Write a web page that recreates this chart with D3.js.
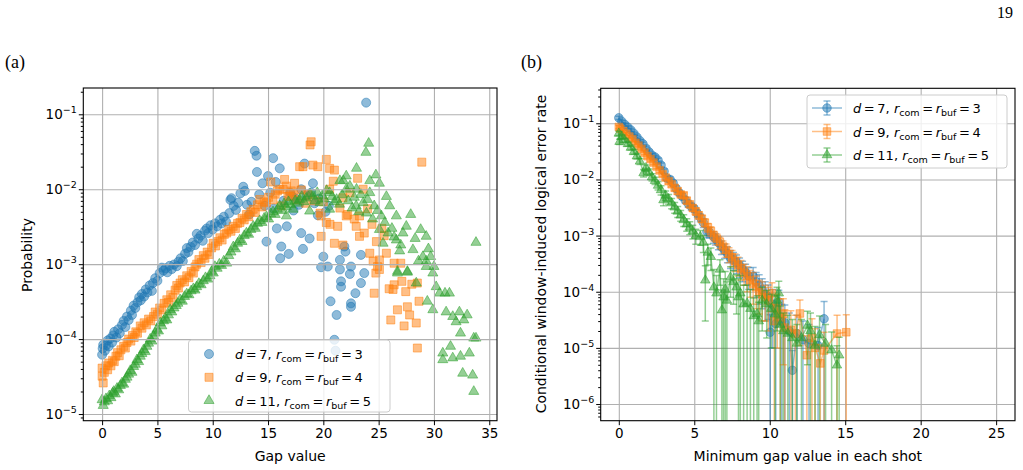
<!DOCTYPE html>
<html>
<head>
<meta charset="utf-8">
<script src="https://d3js.org/d3.v7.min.js"></script>
<style>
  body { margin: 0; background: #fff; }
  text { font-family: "DejaVu Sans", sans-serif; }
</style>
</head>
<body>
<div id="fig"></div>
<script>
// ---- panel (a): [gap value, probability] ----
var scatterD7 = [
  [0.0,6.2e-5],[0.05,7.5e-5],[0.1,8.4e-5],[0.25,7.0e-5],[0.35,8.2e-5],[0.5,9.6e-5],[0.6,8.0e-5],[0.75,1.02e-4],[0.9,9.0e-5],
  [1.0,1.12e-4],[1.1,1.25e-4],[1.3,1.05e-4],[1.45,1.35e-4],[1.6,1.2e-4],[1.8,1.55e-4],[1.95,1.75e-4],[2.1,1.45e-4],[2.25,2.0e-4],
  [2.4,1.8e-4],[2.6,2.4e-4],[2.7,2.1e-4],[2.85,2.8e-4],[3.0,2.6e-4],[3.2,3.1e-4],[3.35,3.6e-4],[3.5,3.3e-4],[3.6,4.0e-4],[3.8,3.7e-4],
  [3.95,4.6e-4],[4.1,4.2e-4],[4.3,5.2e-4],[4.5,4.4e-4],[4.6,5.6e-4],[4.8,6.5e-4],[5.0,6.0e-4],[5.2,7.6e-4],[5.4,9.0e-4],[5.55,8.2e-4],
  [5.75,8.8e-4],[5.9,7.8e-4],[6.1,9.5e-4],[6.3,8.6e-4],[6.5,9.9e-4],[6.75,9.4e-4],[6.9,1.08e-3],[7.1,1.2e-3],[7.3,1.1e-3],[7.5,1.38e-3],
  [7.66,1.64e-3],[7.8,1.45e-3],[8.0,1.7e-3],[8.2,1.95e-3],[8.4,1.8e-3],[8.56,2.54e-3],[8.7,2.2e-3],[8.9,2.4e-3],[9.1,2.05e-3],[9.3,2.8e-3],
  [9.46,3.0e-3],[9.6,2.6e-3],[9.8,3.3e-3],[10.0,2.9e-3],[10.2,3.5e-3],[10.4,3.2e-3],[10.66,3.9e-3],[10.8,3.5e-3],[11.0,4.3e-3],[11.2,3.7e-3],
  [11.5,4.8e-3],[11.6,7.2e-3],[11.7,7.6e-3],[11.9,6.0e-3],[12.1,5.3e-3],[12.3,6.6e-3],[12.5,8.8e-3],[12.76,1.08e-2],[12.9,9.5e-3],[13.1,6.2e-3],
  [13.3,4.6e-3],[13.5,6.8e-3],[13.8,3.25e-2],[13.96,2.8e-2],[14.0,1.7e-2],[14.2,8.5e-3],[14.5,1.2e-2],[14.7,6.0e-3],[14.86,2.0e-3],[15.0,1.5e-2],
  [15.2,9.0e-3],[15.46,2.6e-2],[15.5,5.5e-3],[15.7,1.25e-2],[15.8,3.0e-3],[16.06,1.9e-2],[16.1,1.2e-3],[16.2,1.72e-3],[16.4,7.0e-3],[16.7,3.2e-3],
  [16.87,1.37e-3],[17.0,9.0e-3],[17.2,8.0e-3],[17.3,5.2e-3],[17.5,7.5e-3],[17.8,6.2e-3],[18.0,2.6e-3],[18.0,1.0e-2],[18.16,1.6e-3],[18.3,2.2e-2],
  [18.5,8.2e-3],[18.76,2.2e-3],[18.9,9.0e-3],[19.06,1.2e-2],[19.2,6.5e-3],[19.5,4.5e-3],[19.6,7.5e-3],[19.8,9.1e-4],[20.0,1.26e-3],[20.2,5.0e-3],
  [20.4,9.3e-4],[20.5,6.0e-3],[20.65,3.2e-4],[21.0,9.8e-5],[21.1,7.0e-5],[21.2,2.1e-4],[21.5,1.14e-3],[21.5,8.5e-4],[21.6,5.9e-4],[21.6,5.0e-4],
  [21.9,1.72e-3],[22.0,1.47e-3],[22.4,7.4e-4],[22.5,9.3e-4],[22.5,3.0e-4],[22.5,2.7e-4],[22.9,4.1e-4],[23.4,1.33e-3],[23.4,5.6e-4],[23.7,7.6e-4],
  [23.87,1.43e-1]
];
var scatterD9 = [
  [0.0,3.2e-5],[0.0,4.1e-5],[0.1,2.6e-5],[0.2,3.6e-5],[0.35,4.4e-5],[0.5,3.9e-5],[0.6,4.8e-5],[0.8,4.4e-5],[0.95,5.2e-5],[1.1,5.0e-5],
  [1.25,5.9e-5],[1.4,6.6e-5],[1.55,6.0e-5],[1.7,7.2e-5],[1.95,8.0e-5],[2.1,7.6e-5],[2.25,9.0e-5],[2.4,1.0e-4],[2.6,9.4e-5],[2.75,1.12e-4],
  [2.9,1.05e-4],[3.05,1.25e-4],[3.2,1.2e-4],[3.45,1.5e-4],[3.6,1.4e-4],[3.8,1.65e-4],[4.0,1.55e-4],[4.2,1.85e-4],[4.4,1.75e-4],[4.65,2.0e-4],
  [4.8,2.3e-4],[5.0,2.15e-4],[5.2,2.6e-4],[5.4,2.45e-4],[5.6,3.0e-4],[5.85,3.35e-4],[6.0,3.1e-4],[6.2,3.9e-4],[6.4,3.6e-4],[6.6,4.5e-4],
  [6.75,5.2e-4],[6.9,4.8e-4],[7.05,5.6e-4],[7.25,6.2e-4],[7.45,5.8e-4],[7.65,7.0e-4],[7.85,6.6e-4],[8.05,8.0e-4],[8.25,7.6e-4],[8.4,9.2e-4],
  [8.55,1.0e-3],[8.75,1.15e-3],[8.95,1.05e-3],[9.15,1.3e-3],[9.3,1.2e-3],[9.5,1.45e-3],[9.7,1.35e-3],[9.9,1.65e-3],[10.05,1.9e-3],[10.25,1.75e-3],
  [10.45,2.0e-3],[10.65,2.25e-3],[10.85,2.1e-3],[11.05,2.5e-3],[11.26,2.6e-3],[11.45,2.9e-3],[11.65,2.75e-3],[11.85,3.2e-3],[12.05,3.0e-3],[12.25,3.5e-3],
  [12.46,3.6e-3],[12.65,4.1e-3],[12.85,3.9e-3],[13.06,4.6e-3],[13.25,4.3e-3],[13.45,5.0e-3],[13.66,5.4e-3],[13.85,4.9e-3],[14.05,6.2e-3],[14.26,7.3e-3],
  [14.45,5.8e-3],[14.65,6.8e-3],[14.86,6.6e-3],[15.05,7.8e-3],[15.25,1.25e-2],[15.45,7.2e-3],[15.65,8.6e-3],[15.85,9.5e-3],[16.06,1.0e-2],[16.2,6.0e-3],
  [16.36,1.0e-2],[16.5,1.35e-2],[16.66,1.1e-2],[16.8,8.0e-3],[16.96,8.1e-3],[17.1,9.5e-3],[17.26,9.0e-3],[17.4,1.2e-2],[17.6,7.2e-3],[17.86,2.0e-2],
  [18.0,9.8e-3],[18.16,2.0e-2],[18.4,6.5e-3],[18.6,8.5e-3],[18.8,3.9e-2],[18.9,4.3e-2],[19.06,2.1e-2],[19.2,7.0e-3],[19.5,2.0e-2],[19.7,4.8e-3],
  [19.8,4.4e-3],[19.8,2.35e-3],[20.0,6.8e-3],[20.27,2.5e-2],[20.27,3.6e-3],[20.57,1.9e-2],[20.57,1.0e-2],[20.6,3.4e-3],[20.9,1.28e-2],[21.0,1.8e-2],
  [21.0,1.9e-3],[21.3,3.2e-3],[21.5,5.6e-3],[21.77,7.7e-3],[21.77,1.8e-3],[22.07,4.4e-3],[22.2,4.6e-3],[22.4,9.0e-3],[22.8,4.0e-3],[22.97,3.2e-3],
  [23.1,1.4e-2],[23.27,4.4e-3],[23.27,2.35e-3],[23.6,1.0e-2],[23.7,2.6e-3],[24.0,5.5e-3],[24.2,1.4e-3],[24.4,3.4e-3],[24.5,1.1e-3],[24.6,4.1e-4],
  [24.75,7.6e-4],[24.8,2.0e-3],[24.9,9.3e-4],[25.07,1.14e-3],[25.07,8.5e-4],[25.3,3.0e-3],[25.5,2.4e-3],[25.7,1.4e-3],[25.95,4.7e-4],[26.1,1.8e-4],
  [26.3,4.6e-4],[26.4,5.3e-4],[26.4,1.03e-3],[26.7,2.46e-4],[27.0,1.03e-3],[27.1,5.9e-4],[27.3,1.5e-4],[27.45,4.3e-4],[27.6,2.7e-4],[27.8,2.1e-4],
  [28.0,5.4e-4],[28.4,1.64e-4],[28.5,5.6e-4],[28.5,7.6e-5],[28.65,3.2e-4],[28.9,2.3e-2]
];
var scatterD11 = [
  [0.0,1.55e-5],[0.1,1.3e-5],[0.2,1.45e-5],[0.35,1.6e-5],[0.5,1.5e-5],[0.65,1.75e-5],[0.8,1.65e-5],[0.95,1.9e-5],[1.05,2.0e-5],[1.2,1.85e-5],
  [1.35,2.2e-5],[1.5,2.1e-5],[1.65,2.4e-5],[1.8,2.6e-5],[1.95,2.5e-5],[2.1,2.9e-5],[2.25,3.1e-5],[2.4,3.4e-5],[2.55,3.8e-5],[2.7,3.6e-5],
  [2.85,4.3e-5],[3.0,4.6e-5],[3.15,5.3e-5],[3.3,5.0e-5],[3.45,5.9e-5],[3.6,6.4e-5],[3.75,7.2e-5],[3.9,6.8e-5],[4.05,8.0e-5],[4.2,8.8e-5],
  [4.35,1.0e-4],[4.5,9.4e-5],[4.65,1.1e-4],[4.8,1.2e-4],[4.95,1.35e-4],[5.1,1.28e-4],[5.25,1.64e-4],[5.4,1.5e-4],[5.55,1.75e-4],[5.7,1.9e-4],
  [5.85,1.8e-4],[6.0,2.1e-4],[6.15,2.46e-4],[6.3,2.3e-4],[6.5,2.6e-4],[6.7,2.8e-4],[6.85,3.0e-4],[7.05,3.35e-4],[7.25,3.2e-4],[7.45,3.7e-4],
  [7.65,4.0e-4],[7.85,3.9e-4],[8.05,4.4e-4],[8.25,4.7e-4],[8.4,4.5e-4],[8.55,5.0e-4],[8.75,5.5e-4],[8.95,5.3e-4],[9.15,6.0e-4],[9.35,6.6e-4],
  [9.55,6.3e-4],[9.75,7.0e-4],[9.9,8.0e-4],[10.05,7.6e-4],[10.2,9.3e-4],[10.4,8.8e-4],[10.6,1.0e-3],[10.8,9.6e-4],[11.0,1.1e-3],[11.26,1.03e-3],
  [11.45,1.3e-3],[11.65,1.45e-3],[11.86,1.7e-3],[12.05,1.6e-3],[12.25,1.9e-3],[12.45,2.1e-3],[12.65,2.0e-3],[12.85,2.4e-3],[13.05,2.6e-3],[13.25,2.5e-3],
  [13.45,2.9e-3],[13.66,3.2e-3],[13.85,3.0e-3],[14.05,3.5e-3],[14.25,3.8e-3],[14.45,3.6e-3],[14.65,4.1e-3],[14.86,4.3e-3],[15.05,4.0e-3],[15.25,4.7e-3],
  [15.45,5.0e-3],[15.65,4.6e-3],[15.85,5.4e-3],[16.06,6.0e-3],[16.25,5.2e-3],[16.45,6.4e-3],[16.66,5.8e-3],[16.66,4.4e-3],[16.85,6.8e-3],[17.05,6.2e-3],
  [17.26,5.4e-3],[17.45,7.0e-3],[17.66,6.5e-3],[17.86,7.3e-3],[18.05,8.0e-3],[18.25,6.8e-3],[18.45,7.6e-3],[18.76,5.1e-3],[18.8,8.6e-3],[19.06,8.1e-3],
  [19.25,7.0e-3],[19.45,9.0e-3],[19.7,6.6e-3],[19.9,8.2e-3],[20.1,7.4e-3],[20.3,9.6e-3],[20.57,9.0e-3],[20.57,5.4e-3],[20.8,8.0e-3],[21.0,6.8e-3],
  [21.2,7.3e-3],[21.46,6.3e-3],[21.5,1.3e-2],[21.7,8.4e-3],[21.8,1.3e-2],[22.07,1.0e-2],[22.07,1.5e-2],[22.25,7.0e-3],[22.4,1.1e-2],[22.6,5.6e-3],
  [22.8,7.8e-3],[22.97,6.0e-3],[23.0,1.9e-2],[23.0,1.0e-2],[23.2,5.0e-3],[23.4,8.5e-3],[23.6,6.6e-3],[23.85,3.1e-2],[23.9,4.8e-3],[24.0,7.3e-3],
  [24.1,4.1e-2],[24.2,1.3e-2],[24.2,9.0e-3],[24.45,4.0e-3],[24.6,6.0e-3],[24.75,1.55e-2],[24.9,5.2e-3],[25.07,1.2e-2],[25.07,2.9e-3],[25.25,4.4e-3],
  [25.4,1.9e-3],[25.55,3.6e-3],[25.7,8.0e-3],[25.85,2.6e-3],[26.0,6.0e-3],[26.2,3.0e-3],[26.4,2.3e-3],[26.6,4.4e-3],[26.6,2.1e-3],[26.7,8.0e-4],
  [26.7,7.6e-4],[26.9,1.5e-3],[27.0,1.8e-3],[27.2,2.6e-3],[27.5,3.2e-3],[27.6,8.0e-4],[27.6,7.8e-4],[27.9,4.6e-3],[28.1,1.56e-3],[28.3,2.2e-3],
  [28.4,5.6e-4],[28.6,1.1e-3],[28.8,2.9e-3],[29.0,1.26e-3],[29.3,2.35e-3],[29.3,1.1e-3],[29.3,9.3e-4],[29.4,3.2e-4],[29.5,1.6e-3],[29.7,1.26e-3],
  [29.9,7.6e-4],[29.9,2.46e-4],[30.0,9.3e-4],[30.2,5.0e-4],[30.5,4.1e-4],[30.8,6.5e-5],[30.8,5.3e-5],[31.0,4.1e-4],[31.1,2.3e-4],[31.4,4.1e-4],
  [31.5,8.0e-5],[31.7,2.0e-4],[31.7,5.6e-5],[32.0,1.7e-4],[32.3,2.3e-4],[32.4,1.2e-4],[32.4,5.9e-5],[32.6,3.5e-5],[32.7,1.8e-4],[33.0,2.1e-4],
  [33.2,6.5e-5],[33.5,3.3e-5],[33.6,1.03e-4],[33.6,2.0e-5],[33.8,1.03e-4],[33.8,1.95e-3]
];

// ---- panel (b): [minimum gap, error rate, error bar] ----
var rateD7 = [
  [0.0,0.125,0.008],[0.2,0.108,0.007],[0.4,0.095,0.006],[0.6,0.085,0.005],[0.8,0.076,0.005],[1.0,0.066,0.004],[1.2,0.057,0.004],
  [1.4,0.049,0.003],[1.6,0.043,0.003],[1.8,0.036,0.003],[2.0,0.031,0.0025],[2.2,0.027,0.0022],[2.4,0.025,0.002],[2.6,0.022,0.0019],
  [2.8,0.018,0.0016],[3.0,0.014,0.0013],[3.2,0.0105,0.0011],[3.4,0.0100,0.001],[3.6,0.0086,0.0009],[3.8,0.0069,0.0008],[4.0,0.0058,0.0007],
  [4.2,0.0050,0.0006],[4.4,0.0043,0.00055],[4.6,0.0037,0.0005],[4.8,0.0033,0.00045],[5.0,0.0030,0.0004],[5.2,0.0025,0.00036],[5.4,0.0021,0.00033],
  [5.6,0.0017,0.0003],[5.84,0.00117,0.00025],[6.0,0.00115,0.00024],[6.27,0.00095,0.00022],[6.4,0.00088,0.0002],[6.6,0.00075,0.00019],
  [6.8,0.00063,0.00017],[7.0,0.00055,0.00016],[7.2,0.00048,0.00015],[7.4,0.00040,0.00014],[7.6,0.00037,0.00013],[7.8,0.00033,0.00012],
  [8.0,0.00029,0.00011],[8.2,0.00025,0.0001],[8.4,0.00022,0.00009],[8.6,0.00019,0.00008],[8.9,0.00019,0.00008],[9.1,0.00015,0.00007],
  [9.3,0.00013,0.00007],[9.5,0.00011,0.00006],[9.7,0.00009,0.00006],[9.9,0.000082,0.00005],[10.03,0.000019,0.00002],[10.2,0.00006,0.00005],
  [10.4,0.000027,0.00003],[10.6,0.000066,0.00004],[10.8,0.00003,0.00003],[11.0,0.000028,0.00003],[11.3,0.00002,0.000022],[11.5,0.000004,0.000005],
  [11.8,0.000018,0.00002],[12.2,0.000014,0.000016],[12.6,0.000012,0.000014],[13.2,0.000011,0.000012],[13.6,0.000033,0.000034]
];
var rateD9 = [
  [0.0,0.086,0.006],[0.1,0.08,0.006],[0.3,0.072,0.005],[0.5,0.065,0.005],[0.7,0.058,0.004],[0.9,0.052,0.004],[1.1,0.045,0.003],
  [1.3,0.04,0.003],[1.5,0.035,0.0027],[1.7,0.03,0.0024],[1.9,0.026,0.0021],[2.1,0.023,0.0019],[2.3,0.02,0.0017],[2.5,0.017,0.0015],
  [2.7,0.0145,0.0013],[2.9,0.0125,0.0012],[3.1,0.0108,0.001],[3.3,0.0093,0.0009],[3.5,0.0082,0.0008],[3.7,0.0071,0.0008],[3.9,0.0062,0.0007],
  [4.1,0.0054,0.0006],[4.3,0.0052,0.0006],[4.5,0.0042,0.0005],[4.7,0.0036,0.00045],[4.9,0.0031,0.0004],[5.1,0.0027,0.00037],[5.3,0.0023,0.00034],
  [5.5,0.002,0.0003],[5.7,0.0017,0.00028],[5.9,0.0014,0.00025],[6.1,0.0012,0.00023],[6.3,0.001,0.0002],[6.5,0.00088,0.00019],[6.7,0.00076,0.00017],
  [6.9,0.00064,0.00016],[7.1,0.00056,0.00015],[7.3,0.00047,0.00014],[7.5,0.00041,0.00013],[7.7,0.00035,0.00012],[7.9,0.0003,0.00011],
  [8.1,0.00026,0.0001],[8.3,0.00022,0.00009],[8.5,0.00019,0.00009],[8.7,0.00016,0.00008],[8.9,0.00014,0.00008],[9.1,0.00012,0.00007],
  [9.3,0.0001,0.00006],[9.5,0.00009,0.00006],[9.7,0.00008,0.00005],[9.9,0.00007,0.00005],[10.15,0.000094,0.00005],[10.3,0.00003,0.00003],
  [10.5,0.00005,0.00004],[10.7,0.000035,0.00004],[10.9,0.00004,0.000035],[11.0,0.000023,0.000025],[11.4,0.000021,0.000025],[11.7,0.000018,0.00002],
  [12.0,0.000041,0.00003],[12.46,0.0000074,0.000009],[12.8,0.000015,0.000018],[13.0,0.00001,0.000012],[13.35,0.0000053,0.000006],
  [13.6,0.000009,0.00001],[14.46,0.000018,0.00002],[15.07,0.000019,0.00002]
];
var rateD11 = [
  [0.0,0.066,0.006],[0.05,0.047,0.005],[0.2,0.058,0.005],[0.4,0.05,0.004],[0.6,0.043,0.004],[0.8,0.037,0.0035],[1.0,0.031,0.003],
  [1.2,0.026,0.0028],[1.4,0.021,0.0025],[1.64,0.013,0.002],[1.8,0.016,0.002],[2.0,0.0135,0.0018],[2.2,0.011,0.0016],[2.4,0.0095,0.0014],
  [2.6,0.0078,0.0013],[2.8,0.0065,0.0012],[2.96,0.0043,0.0009],[3.1,0.0052,0.001],[3.3,0.0045,0.0009],[3.5,0.0038,0.0008],[3.7,0.0032,0.0007],
  [3.9,0.0027,0.0006],[4.1,0.0023,0.0005],[4.3,0.0019,0.00045],[4.5,0.0016,0.0004],[4.7,0.0014,0.00036],[4.9,0.0012,0.00033],[5.1,0.001,0.0003],
  [5.4,0.00095,0.00028],[5.6,0.00075,0.00025],[5.73,0.00016,0.00013],[5.9,0.0005,0.0002],[6.1,0.00042,0.00018],[6.3,0.00012,0.00013],
  [6.47,0.000094,0.0001],[6.7,0.00025,0.00012],[6.83,0.000047,0.00006],[6.94,0.00008,0.00009],[7.05,0.00011,0.00012],[7.16,0.00007,0.00008],
  [7.4,0.00018,0.0001],[7.6,0.00015,0.00009],[7.8,0.00012,0.00008],[7.93,0.00008,0.00009],[8.05,0.000094,0.0001],[8.27,0.00006,0.00007],
  [8.5,0.000062,0.00007],[8.72,0.00005,0.00006],[8.94,0.000037,0.00004],[9.16,0.00004,0.000045],[9.27,0.00003,0.000035],[9.5,0.00007,0.00005],
  [9.8,0.00006,0.000045],[10.1,0.00005,0.00004],[10.35,0.00004,0.000045],[10.48,0.00007,0.00005],[10.6,0.000094,0.00006],[10.7,0.000026,0.00003],
  [10.9,0.00002,0.000022],[11.2,0.000018,0.00002],[11.5,0.000015,0.000017],[11.8,0.000012,0.000014],[12.1,0.000015,0.000017],[12.5,0.000025,0.00002],
  [12.7,0.00002,0.000022],[13.0,0.000011,0.000013],[13.3,0.000017,0.00002],[13.7,0.000012,0.000014],[14.1,0.0000091,0.00001],
  [14.45,0.0000049,0.000006],[14.6,0.0000074,0.000008]
];

var seriesNames = ["d7", "d9", "d11"];
var legendParts = [["7", "3"], ["9", "4"], ["11", "5"]];
var xTicksA = [0, 5, 10, 15, 20, 25, 30, 35];
var xTicksB = [0, 5, 10, 15, 20, 25];
var yPowersA = [-5, -4, -3, -2, -1];
var yPowersB = [-6, -5, -4, -3, -2, -1];

var colors = { d7: "#1f77b4", d9: "#ff7f0e", d11: "#2ca02c" };
var symbols = { d7: d3.symbolCircle, d9: d3.symbolSquare, d11: d3.symbolTriangle };
var symbolSizes = { d7: 64, d9: 64, d11: 44 };

var tickFont = "13.5px";
var labelFont = "14px";
var legendFont = "13px";

var svg = d3.select("#fig").append("svg")
  .attr("width", 1023)
  .attr("height", 470);

// page number and panel tags
svg.append("text").attr("x", 1013).attr("y", 18).attr("text-anchor", "end")
  .style("font-family", "Liberation Serif").style("font-size", "16px").text("19");
svg.append("text").attr("x", 5).attr("y", 68)
  .style("font-family", "Liberation Serif").style("font-size", "18px").text("(a)");
svg.append("text").attr("x", 521).attr("y", 68)
  .style("font-family", "Liberation Serif").style("font-size", "18px").text("(b)");

function minorTicks(domain) {
  var out = [];
  for (var k = -8; k <= 1; k++) {
    for (var m = 2; m <= 9; m++) {
      var v = m * Math.pow(10, k);
      if (v >= domain[0] && v <= domain[1]) out.push(v);
    }
  }
  return out;
}

function makePanel(box, xDomain, yDomain, xTicks, yPowers, id) {
  var x = d3.scaleLinear().domain(xDomain).range([box.left, box.right]);
  var y = d3.scaleLog().domain(yDomain).range([box.bottom, box.top]);
  var g = svg.append("g");

  svg.append("clipPath").attr("id", id)
    .append("rect")
    .attr("x", box.left).attr("y", box.top)
    .attr("width", box.right - box.left).attr("height", box.bottom - box.top);

  var grid = g.append("g").attr("class", "grid");
  grid.append("g")
    .attr("transform", "translate(0," + box.bottom + ")")
    .call(d3.axisBottom(x).tickValues(xTicks).tickSize(-(box.bottom - box.top)).tickFormat(""));
  grid.append("g")
    .attr("transform", "translate(" + box.left + ",0)")
    .call(d3.axisLeft(y).tickValues(yPowers.map(function(p) { return Math.pow(10, p); }))
      .tickSize(-(box.right - box.left)).tickFormat(""));
  grid.selectAll(".domain").remove();
  grid.selectAll("line").style("stroke", "#b0b0b0").style("stroke-width", "1.1px");

  var plot = g.append("g").attr("clip-path", "url(#" + id + ")");
  return { x: x, y: y, g: g, grid: grid, plot: plot, box: box };
}

function finishAxes(p, xTicks, yPowers) {
  var box = p.box;
  var ax = p.g.append("g");
  var xa = ax.append("g")
    .attr("transform", "translate(0," + box.bottom + ")")
    .call(d3.axisBottom(p.x).tickValues(xTicks).tickSize(4.5).tickPadding(3));
  xa.selectAll("text").style("font-size", tickFont).style("fill", "#000")
    .attr("y", 8).attr("dy", "0.71em");

  ax.append("g")
    .attr("transform", "translate(" + box.left + ",0)")
    .call(d3.axisLeft(p.y).tickValues(yPowers.map(function(q) { return Math.pow(10, q); }))
      .tickSize(4.5).tickFormat(""));
  ax.append("g")
    .attr("transform", "translate(" + box.left + ",0)")
    .call(d3.axisLeft(p.y).tickValues(minorTicks(p.y.domain())).tickSize(2.5).tickFormat(""));
  ax.selectAll("line").style("stroke", "#000").style("stroke-width", "1px");
  ax.selectAll(".domain").remove();

  yPowers.forEach(function(q) {
    var t = ax.append("text")
      .attr("x", box.left - 6.5)
      .attr("y", p.y(Math.pow(10, q)) + 5)
      .attr("text-anchor", "end")
      .style("font-size", tickFont);
    t.append("tspan").text("10");
    t.append("tspan").attr("dy", -6).style("font-size", "9.5px").text("\u2212" + (-q));
  });

  // frame
  ax.append("rect")
    .attr("x", box.left).attr("y", box.top)
    .attr("width", box.right - box.left).attr("height", box.bottom - box.top)
    .style("fill", "none").style("stroke", "#000").style("stroke-width", "1.1px");
}

function legendLabel(sel, parts) {
  sel.append("tspan").style("font-style", "italic").text("d");
  sel.append("tspan").text("\u2009=\u2009" + parts[0] + ", ");
  sel.append("tspan").style("font-style", "italic").text("r");
  sel.append("tspan").attr("dy", 3).style("font-size", "9.5px").text("com");
  sel.append("tspan").attr("dy", -3).text("\u2009=\u2009");
  sel.append("tspan").style("font-style", "italic").text("r");
  sel.append("tspan").attr("dy", 3).style("font-size", "9.5px").text("buf");
  sel.append("tspan").attr("dy", -3).text("\u2009=\u2009" + parts[1]);
}

// ---------------- panel (a) ----------------
var boxA = { left: 83.3, right: 497, top: 88, bottom: 420.7 };
var pA = makePanel(boxA, [-1.7, 35.7], [8.15e-6, 0.2244], xTicksA, yPowersA, "clipA");
var dataA = { d7: scatterD7, d9: scatterD9, d11: scatterD11 };

seriesNames.forEach(function(name) {
  pA.plot.append("g").selectAll("path")
    .data(dataA[name])
    .enter()
    .append("path")
    .attr("d", d3.symbol().type(symbols[name]).size(symbolSizes[name]))
    .attr("transform", function(d) { return "translate(" + pA.x(d[0]) + "," + pA.y(d[1]) + ")"; })
    .style("fill", colors[name])
    .style("fill-opacity", 0.5)
    .style("stroke", colors[name])
    .style("stroke-opacity", 0.5)
    .style("stroke-width", 1);
});
// scatter sits under the grid in matplotlib
pA.grid.raise();
finishAxes(pA, xTicksA, yPowersA);

svg.append("text").attr("x", (boxA.left + boxA.right) / 2).attr("y", 461)
  .attr("text-anchor", "middle").style("font-size", labelFont).text("Gap value");
svg.append("text").attr("transform", "translate(32,255) rotate(-90)")
  .attr("text-anchor", "middle").style("font-size", labelFont).text("Probability");

// legend (a)
var legA = svg.append("g");
legA.append("rect").attr("x", 188.5).attr("y", 340).attr("width", 201.5).attr("height", 72).attr("rx", 3)
  .style("fill", "#fff").style("fill-opacity", 0.8).style("stroke", "#cccccc").style("stroke-width", 1);
seriesNames.forEach(function(name, i) {
  var cy = 354 + i * 23.3;
  legA.append("path")
    .attr("d", d3.symbol().type(symbols[name]).size(symbolSizes[name]))
    .attr("transform", "translate(209," + cy + ")")
    .style("fill", colors[name]).style("fill-opacity", 0.5)
    .style("stroke", colors[name]).style("stroke-opacity", 0.5);
  var t = legA.append("text").attr("x", 235).attr("y", cy + 5).style("font-size", legendFont);
  legendLabel(t, legendParts[i]);
});

// ---------------- panel (b) ----------------
var boxB = { left: 600.7, right: 1015, top: 88.3, bottom: 420.7 };
var pB = makePanel(boxB, [-1.2, 26.25], [5.05e-7, 0.42], xTicksB, yPowersB, "clipB");
var dataB = { d7: rateD7, d9: rateD9, d11: rateD11 };

function drawErrorbar(g, rows, name, x, y, bottom) {
  var c = colors[name];
  g.append("path")
    .datum(rows)
    .attr("d", d3.line().x(function(d) { return x(d[0]); }).y(function(d) { return y(d[1]); }))
    .style("fill", "none").style("stroke", c).style("stroke-opacity", 0.5).style("stroke-width", 1.5);
  g.append("g").selectAll("line")
    .data(rows)
    .enter()
    .append("line")
    .attr("x1", function(d) { return x(d[0]); })
    .attr("x2", function(d) { return x(d[0]); })
    .attr("y1", function(d) { return y(d[1] + d[2]); })
    .attr("y2", function(d) { return d[1] - d[2] > 0 ? y(d[1] - d[2]) : bottom + 5; })
    .style("stroke", c).style("stroke-opacity", 0.5).style("stroke-width", 1.5);
  g.append("g").selectAll("line")
    .data(rows)
    .enter()
    .append("line")
    .attr("x1", function(d) { return x(d[0]) - 3.5; })
    .attr("x2", function(d) { return x(d[0]) + 3.5; })
    .attr("y1", function(d) { return y(d[1] + d[2]); })
    .attr("y2", function(d) { return y(d[1] + d[2]); })
    .style("stroke", c).style("stroke-opacity", 0.5).style("stroke-width", 1.5);
  g.append("g").selectAll("line")
    .data(rows.filter(function(d) { return d[1] - d[2] > 0; }))
    .enter()
    .append("line")
    .attr("x1", function(d) { return x(d[0]) - 3.5; })
    .attr("x2", function(d) { return x(d[0]) + 3.5; })
    .attr("y1", function(d) { return y(d[1] - d[2]); })
    .attr("y2", function(d) { return y(d[1] - d[2]); })
    .style("stroke", c).style("stroke-opacity", 0.5).style("stroke-width", 1.5);
  g.append("g").selectAll("path")
    .data(rows)
    .enter()
    .append("path")
    .attr("d", d3.symbol().type(symbols[name]).size(symbolSizes[name] * 0.9))
    .attr("transform", function(d) { return "translate(" + x(d[0]) + "," + y(d[1]) + ")"; })
    .style("fill", c).style("fill-opacity", 0.5)
    .style("stroke", c).style("stroke-opacity", 0.5);
}

seriesNames.forEach(function(name) {
  drawErrorbar(pB.plot.append("g"), dataB[name], name, pB.x, pB.y, boxB.bottom);
});
finishAxes(pB, xTicksB, yPowersB);

svg.append("text").attr("x", (boxB.left + boxB.right) / 2).attr("y", 461)
  .attr("text-anchor", "middle").style("font-size", labelFont).text("Minimum gap value in each shot");
svg.append("text").attr("transform", "translate(546,254) rotate(-90)")
  .attr("text-anchor", "middle").style("font-size", labelFont).text("Conditional window-induced logical error rate");

// legend (b)
var legB = svg.append("g");
legB.append("rect").attr("x", 807).attr("y", 95).attr("width", 200).attr("height", 73).attr("rx", 3)
  .style("fill", "#fff").style("fill-opacity", 0.8).style("stroke", "#cccccc").style("stroke-width", 1);
seriesNames.forEach(function(name, i) {
  var cy = 108 + i * 23.5;
  var c = colors[name];
  var hg = legB.append("g");
  hg.append("line").attr("x1", 812).attr("x2", 842).attr("y1", cy).attr("y2", cy);
  hg.append("line").attr("x1", 827).attr("x2", 827).attr("y1", cy - 7).attr("y2", cy + 7);
  hg.append("line").attr("x1", 823.5).attr("x2", 830.5).attr("y1", cy - 7).attr("y2", cy - 7);
  hg.append("line").attr("x1", 823.5).attr("x2", 830.5).attr("y1", cy + 7).attr("y2", cy + 7);
  hg.selectAll("line").style("stroke", c).style("stroke-opacity", 0.5).style("stroke-width", 1.5);
  hg.append("path")
    .attr("d", d3.symbol().type(symbols[name]).size(symbolSizes[name] * 0.9))
    .attr("transform", "translate(827," + cy + ")")
    .style("fill", c).style("fill-opacity", 0.5)
    .style("stroke", c).style("stroke-opacity", 0.5);
  var t = legB.append("text").attr("x", 853).attr("y", cy + 5).style("font-size", legendFont);
  legendLabel(t, legendParts[i]);
});
</script>
</body>
</html>
